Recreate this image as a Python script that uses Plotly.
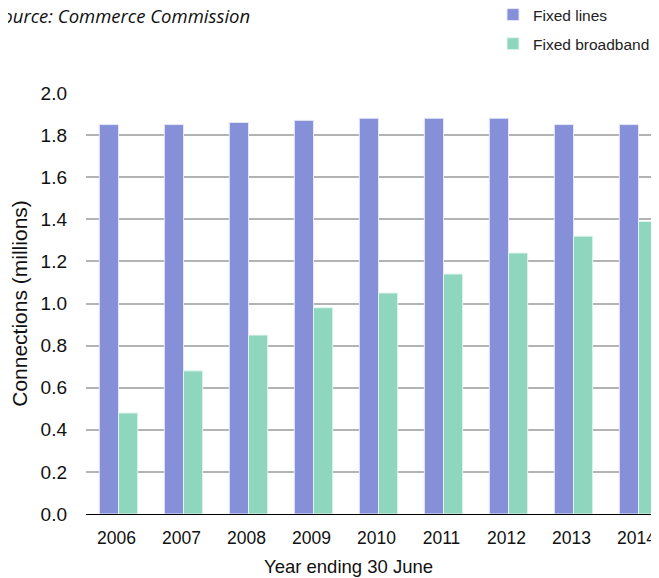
import plotly.graph_objects as go

years = ["2006", "2007", "2008", "2009", "2010", "2011", "2012", "2013", "2014"]
fixed_lines = [1.85, 1.85, 1.86, 1.87, 1.88, 1.88, 1.88, 1.85, 1.85]
fixed_broadband = [0.48, 0.68, 0.85, 0.98, 1.05, 1.14, 1.24, 1.32, 1.39]
y_ticks = [0.0, 0.2, 0.4, 0.6, 0.8, 1.0, 1.2, 1.4, 1.6, 1.8, 2.0]
y_tick_text = [f"{v:.1f}" for v in y_ticks]

fig = go.Figure()
fig.add_trace(go.Bar(x=years, y=fixed_lines, name="Fixed lines",
                     marker=dict(color="#8590D9", line=dict(color="#E6E8F8", width=1)),
                     legendgroup="a"))
fig.add_trace(go.Bar(x=years, y=fixed_broadband, name="Fixed broadband",
                     marker=dict(color="#8FD6BE", line=dict(color="#E2F5EE", width=1)),
                     legendgroup="b"))

# the page body adds an 8px offset; work in figure coordinates
OFF = 8
W, H = 659 - OFF, 578 - OFF
L, R, T, B = 86 - OFF, 0, 93 - OFF, 578 - 514
plot_w = W - L - R
plot_h = H - T - B


def px_x(page_x):
    return (page_x - OFF - L) / plot_w


def px_y(page_y):
    return 1 - (page_y - OFF - T) / plot_h


fig.update_layout(
    width=W, height=H,
    margin=dict(l=L, r=R, t=T, b=B, autoexpand=False),
    paper_bgcolor="white", plot_bgcolor="white",
    barmode="group", bargap=0.41, bargroupgap=0,
    font=dict(family="Liberation Sans, Arial, sans-serif", size=18, color="#111111"),
    showlegend=True,
    legend=dict(x=px_x(533 - 40), y=px_y(-2), xanchor="left", yanchor="top",
                font=dict(size=15.5, color="#222222"), tracegroupgap=6,
                bgcolor="rgba(0,0,0,0)", itemwidth=30),
    xaxis=dict(type="category", range=[-0.5, -0.5 + plot_w / 65.0],
               showgrid=False, ticks="", showline=False, automargin=False,
               tickfont=dict(size=17.5), ticklabelstandoff=11, ticklabelshift=-2),
    yaxis=dict(range=[0, 2.0], tickvals=y_ticks, ticktext=y_tick_text,
               showgrid=True, gridcolor="#B3B3B3", gridwidth=1.6,
               zeroline=True, zerolinecolor="#000000", zerolinewidth=1,
               ticks="", ticklabelstandoff=18, showline=False, automargin=False,
               title=dict(text="Connections (millions)", standoff=16, font=dict(size=21)),
               tickfont=dict(size=19)),
    annotations=[
        dict(text="<i>Source: Commerce Commission</i>", xref="paper", yref="paper",
             x=px_x(-9), y=px_y(15), xanchor="left", yanchor="middle",
             showarrow=False, font=dict(family="Open Sans, sans-serif", size=18.5, color="#111111")),
        dict(text="Year ending 30 June", xref="paper", yref="paper",
             x=px_x(348.5), y=px_y(566), xanchor="center", yanchor="middle",
             showarrow=False, font=dict(size=18.5, color="#111111")),
    ],
)

fig.write_html("out.html")
